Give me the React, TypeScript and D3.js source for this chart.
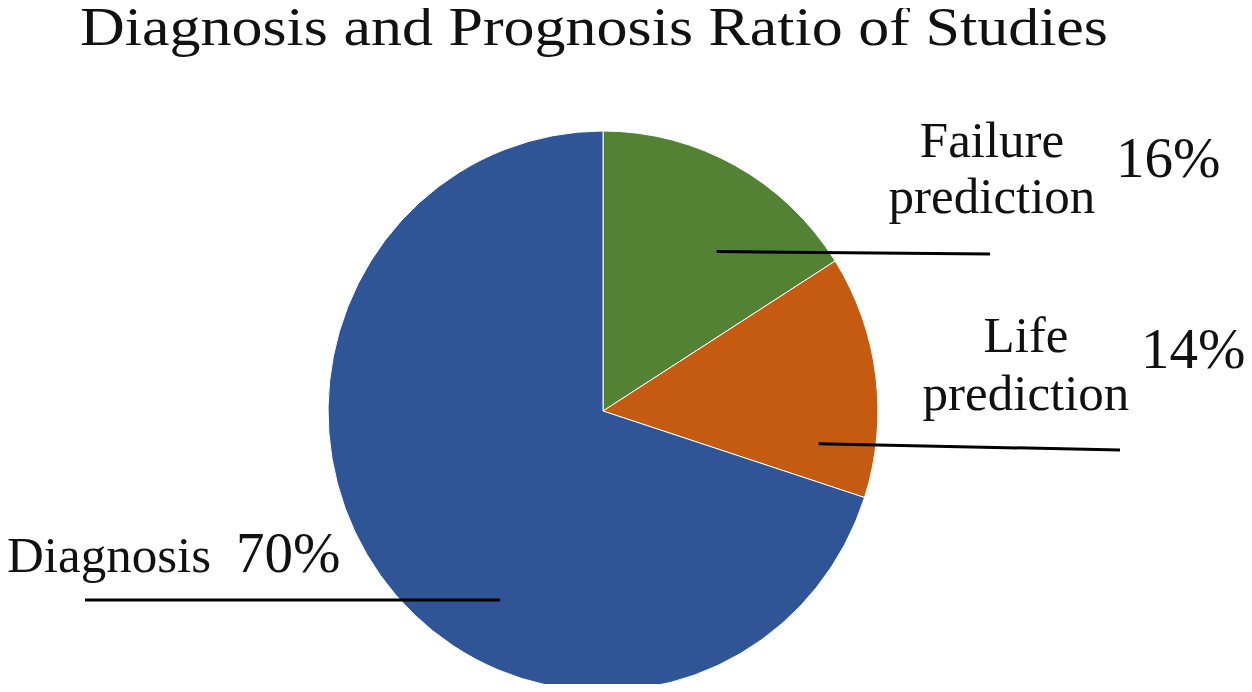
import React, { useEffect, useRef } from 'react';
import * as d3 from 'd3';

// data
const categories = ['Failure prediction', 'Life prediction', 'Diagnosis'];
const shares = [16, 14, 70];
const sliceColors = ['#548235', '#C55A11', '#2F5597'];

const W = 1252;
const H = 692;

const App = () => {
    const ref = useRef<SVGSVGElement>(null);

    useEffect(() => {
        const svg = d3.select(ref.current);
        svg.selectAll('*').remove();

        const cx = 603;
        const cy = 411;
        const radius = 280;
        const sx = 0.982; // picture is a little narrower than tall

        svg.append('rect').attr('width', W).attr('height', H).attr('fill', 'white');

        // title
        svg.append('text')
            .attr('x', 80)
            .attr('y', 45)
            .attr('textLength', 1028)
            .attr('lengthAdjust', 'spacingAndGlyphs')
            .style('font-family', '"Liberation Serif", serif')
            .style('font-size', '54px')
            .attr('fill', '#111')
            .text('Diagnosis and Prognosis Ratio of Studies');

        const pie = d3.pie<number>().sort(null).value((d) => d);
        const arcs = pie(shares);
        const arc = d3.arc<d3.PieArcDatum<number>>().innerRadius(0).outerRadius(radius);

        const g = svg.append('g').attr('transform', `translate(${cx},${cy}) scale(${sx},1)`);
        g.selectAll('path')
            .data(arcs)
            .join('path')
            .attr('d', arc)
            .attr('fill', (d, i) => sliceColors[i])
            .attr('stroke', 'white')
            .attr('stroke-width', 1)
            .attr('vector-effect', 'non-scaling-stroke');

        // label placement: name lines, percent, leader line (angle in deg, r from centre, end x)
        const labels = [
            { lines: ['Failure', 'prediction'], nx: 992, ny: [157, 213], px: 1116, py: 177, ang: 36, r: 197, ex: 990, ey: 254 },
            { lines: ['Life', 'prediction'], nx: 1026, ny: [352, 410], px: 1141, py: 368, ang: 98.5, r: 222, ex: 1120, ey: 450 },
            { lines: ['Diagnosis'], nx: 109, ny: [572], px: 236, py: 572, ang: 209, r: 216, ex: 85, ey: 600 },
        ];

        labels.forEach((l, i) => {
            const a = (l.ang * Math.PI) / 180;
            const x0 = cx + sx * l.r * Math.sin(a);
            const y0 = cy - l.r * Math.cos(a);
            svg.append('line')
                .attr('x1', x0)
                .attr('y1', y0)
                .attr('x2', l.ex)
                .attr('y2', l.ey)
                .attr('stroke', '#000')
                .attr('stroke-width', 3);

            l.lines.forEach((t, j) => {
                svg.append('text')
                    .attr('x', l.nx)
                    .attr('y', l.ny[j])
                    .attr('text-anchor', 'middle')
                    .style('font-family', '"Liberation Serif", serif')
                    .style('font-size', '51px')
                    .attr('fill', '#111')
                    .text(t);
            });

            svg.append('text')
                .attr('x', l.px)
                .attr('y', l.py)
                .style('font-family', '"Liberation Serif", serif')
                .style('font-size', '57px')
                .attr('fill', '#111')
                .text(`${shares[i]}%`);
        });
    }, []);

    return <svg ref={ref} width={W} height={H} style={{ display: 'block', margin: '-8px' }} />;
};

export default App;
